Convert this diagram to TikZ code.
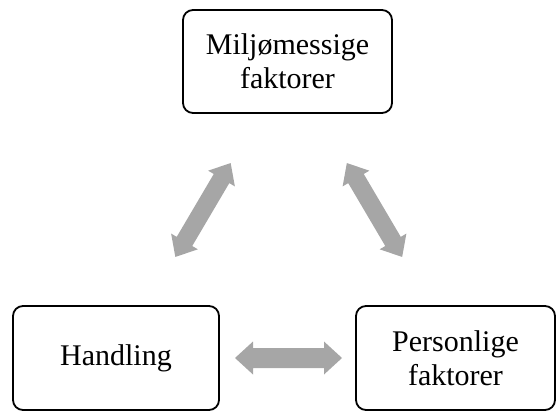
\documentclass[tikz,border=0pt]{standalone}
\usepackage{fontspec}
\setmainfont{Liberation Serif}
\definecolor{arrgray}{HTML}{A6A6A6}
\tikzset{
  box/.style={draw=black, line width=1.8pt, rounded corners=10pt, fill=white,
    align=center, inner sep=0pt, font=\fontsize{30}{34}\selectfont},
  blockarr/.style={fill=arrgray, draw=none}
}
\newcommand{\dblarrow}[5]{% center, angle, length, head width, shaft width, head length fixed
  \begin{scope}[shift={(#1)}, rotate=#2]
    \fill[blockarr] (-#3/2,0) -- (-#3/2+18,#4/2) -- (-#3/2+18,#5/2) -- (#3/2-18,#5/2) -- (#3/2-18,#4/2) -- (#3/2,0)
      -- (#3/2-18,-#4/2) -- (#3/2-18,-#5/2) -- (-#3/2+18,-#5/2) -- (-#3/2+18,-#4/2) -- cycle;
  \end{scope}}
\begin{document}
\begin{tikzpicture}[x=1pt,y=1pt]
  \useasboundingbox (0,0) rectangle (556,412);
  \node[box, minimum width=209pt, minimum height=103pt] (env) at (287.5,350.5) {Miljømessige\\faktorer};
  \node[box, minimum width=206pt, minimum height=104pt] (act) at (116,54) {Handling};
  \node[box, minimum width=199pt, minimum height=104pt] (pers) at (455.5,54) {Personlige\\faktorer};
  \coordinate (m1) at (203,202);
  \coordinate (m2) at (374.5,202);
  \coordinate (m3) at (288.5,54);
  \dblarrow{m1}{59.5}{109}{31}{18}
  \dblarrow{m2}{-59.5}{109}{31}{18}
  \dblarrow{m3}{0}{107}{33}{20}
\end{tikzpicture}
\end{document}
